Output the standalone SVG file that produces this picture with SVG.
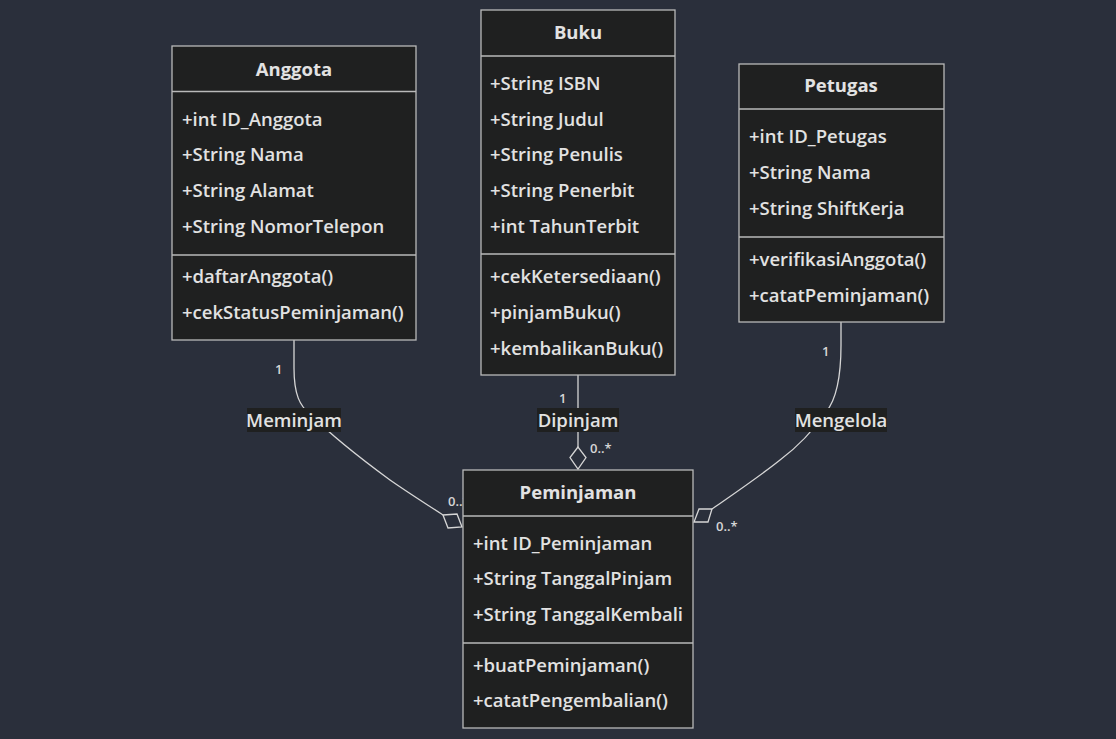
<svg xmlns="http://www.w3.org/2000/svg" width="1116" height="739" viewBox="0 0 1116 739">
<style>
.bg{fill:#2a2f3b}
.box{fill:#1f2020;stroke:#b9b9b9;stroke-width:1.3}
.div{stroke:#b9b9b9;stroke-width:1.3}
.t{font-family:"Open Sans","Noto Sans",sans-serif;font-size:18.5px;font-weight:600;fill:#e2e2e2;dominant-baseline:central}
.title{font-weight:bold;text-anchor:middle}
.edge{fill:none;stroke:#d6d6d6;stroke-width:1.3}
.dia{fill:#2a2f3b;stroke:#d6d6d6;stroke-width:1.3}
.lblbg{fill:#1f2020}
.lbl{font-family:"Open Sans","Noto Sans",sans-serif;font-size:18.5px;font-weight:600;fill:#e2e2e2;text-anchor:middle;dominant-baseline:central}
.card{font-family:"Open Sans","Noto Sans",sans-serif;font-size:13px;font-weight:600;fill:#d6d6d6;dominant-baseline:central}
</style>
<rect class="bg" x="0" y="0" width="1116" height="739"/>

<g id="connectors">
  <path class="edge" d="M294,340 L294,368 C294,395 300,406 310,414 C330,434 360,458 390,480 C410,494 428,505 443,515"/>
  <path class="edge" d="M578,375 L578,447"/>
  <path class="edge" d="M841,322 L841,345 C841,380 836,400 826,412 C815,428 800,445 780,460 C760,476 735,493 712,509"/>
  <polygon class="dia" points="443,515 457,514 462,527 448,528"/>
  <polygon class="dia" points="578,447 570,457.5 578,469 586,457.5"/>
  <polygon class="dia" points="712,509 699,509 694,522 708,522"/>
  <rect class="lblbg" x="247" y="408" width="94" height="24"/>
  <text class="lbl" x="294" y="419">Meminjam</text>
  <rect class="lblbg" x="537" y="408" width="82" height="24"/>
  <text class="lbl" x="578" y="419">Dipinjam</text>
  <rect class="lblbg" x="795" y="408" width="92" height="24"/>
  <text class="lbl" x="841" y="419">Mengelola</text>
  <text class="card" x="275" y="369">1</text>
  <text class="card" x="448" y="501">0..*</text>
  <text class="card" x="559" y="398">1</text>
  <text class="card" x="590" y="448">0..*</text>
  <text class="card" x="822" y="351">1</text>
  <text class="card" x="716" y="526">0..*</text>
</g>

<g id="Anggota">
  <rect class="box" x="172" y="46" width="244" height="294"/>
  <line class="div" x1="172" y1="91.5" x2="416" y2="91.5"/>
  <line class="div" x1="172" y1="255" x2="416" y2="255"/>
  <text class="t title" x="294" y="68">Anggota</text>
  <text class="t" x="182" y="118">+int ID_Anggota</text>
  <text class="t" x="182" y="153">+String Nama</text>
  <text class="t" x="182" y="189">+String Alamat</text>
  <text class="t" x="182" y="225">+String NomorTelepon</text>
  <text class="t" x="182" y="275">+daftarAnggota()</text>
  <text class="t" x="182" y="311">+cekStatusPeminjaman()</text>
</g>

<g id="Buku">
  <rect class="box" x="481" y="10" width="194" height="365"/>
  <line class="div" x1="481" y1="56" x2="675" y2="56"/>
  <line class="div" x1="481" y1="254" x2="675" y2="254"/>
  <text class="t title" x="578" y="31">Buku</text>
  <text class="t" x="490" y="82">+String ISBN</text>
  <text class="t" x="490" y="118">+String Judul</text>
  <text class="t" x="490" y="153">+String Penulis</text>
  <text class="t" x="490" y="189">+String Penerbit</text>
  <text class="t" x="490" y="225">+int TahunTerbit</text>
  <text class="t" x="490" y="275">+cekKetersediaan()</text>
  <text class="t" x="490" y="311">+pinjamBuku()</text>
  <text class="t" x="490" y="347">+kembalikanBuku()</text>
</g>

<g id="Petugas">
  <rect class="box" x="739" y="64" width="205" height="258"/>
  <line class="div" x1="739" y1="109" x2="944" y2="109"/>
  <line class="div" x1="739" y1="237" x2="944" y2="237"/>
  <text class="t title" x="841" y="84">Petugas</text>
  <text class="t" x="749" y="135">+int ID_Petugas</text>
  <text class="t" x="749" y="171">+String Nama</text>
  <text class="t" x="749" y="207">+String ShiftKerja</text>
  <text class="t" x="749" y="258">+verifikasiAnggota()</text>
  <text class="t" x="749" y="294">+catatPeminjaman()</text>
</g>

<g id="Peminjaman">
  <rect class="box" x="463" y="470" width="230" height="258"/>
  <line class="div" x1="463" y1="516" x2="693" y2="516"/>
  <line class="div" x1="463" y1="643" x2="693" y2="643"/>
  <text class="t title" x="578" y="491">Peminjaman</text>
  <text class="t" x="473" y="542">+int ID_Peminjaman</text>
  <text class="t" x="473" y="577">+String TanggalPinjam</text>
  <text class="t" x="473" y="613">+String TanggalKembali</text>
  <text class="t" x="473" y="664">+buatPeminjaman()</text>
  <text class="t" x="473" y="699">+catatPengembalian()</text>
</g>
</svg>
